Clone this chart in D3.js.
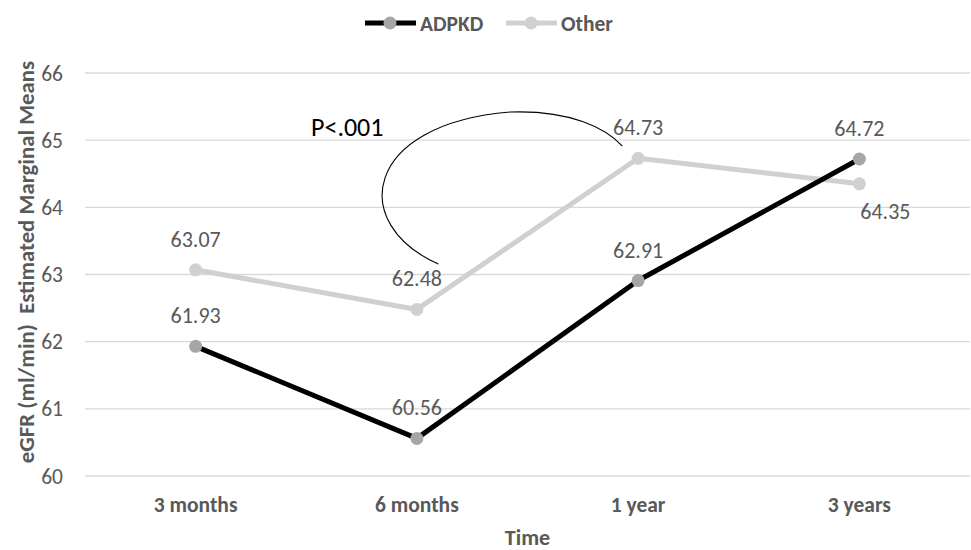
<!DOCTYPE html>
<html>
<head>
<meta charset="utf-8">
<script src="https://cdn.jsdelivr.net/npm/d3@7"></script>
<style>
  body { margin: 0; background: #fff; }
  svg { font-family: Carlito, Calibri, Lato, sans-serif; }
</style>
</head>
<body>
<div id="graphic"></div>
<script>
var categories = ["3 months", "6 months", "1 year", "3 years"];
var adpkd = [61.93, 60.56, 62.91, 64.72];
var other = [63.07, 62.48, 64.73, 64.35];
var yTicks = [60, 61, 62, 63, 64, 65, 66];
var otherLabelPos = ["above", "above", "above", "below"];
var seriesNames = ["ADPKD", "Other"];

var width = 971, height = 550;
var margin = {top: 73, right: 1, bottom: 74, left: 85};

var svg = d3.select("#graphic").append("svg")
  .attr("width", width)
  .attr("height", height);

var x = d3.scaleBand()
  .domain(categories)
  .range([margin.left, width - margin.right]);

var xIdx = d3.scaleLinear()
  .domain([0, categories.length - 1])
  .range([x(categories[0]) + x.bandwidth() / 2, x(categories[categories.length - 1]) + x.bandwidth() / 2]);

var y = d3.scaleLinear()
  .domain([60, 66])
  .range([height - margin.bottom, margin.top]);

// gridlines
svg.append("g")
  .selectAll("line")
  .data(yTicks)
  .enter().append("line")
  .attr("x1", margin.left)
  .attr("x2", width - margin.right)
  .attr("y1", function(d) { return y(d); })
  .attr("y2", function(d) { return y(d); })
  .attr("stroke", "#d9d9d9")
  .attr("stroke-width", 1.3);

// y tick labels
svg.append("g")
  .selectAll("text")
  .data(yTicks)
  .enter().append("text")
  .attr("x", 63)
  .attr("y", function(d) { return y(d); })
  .attr("dy", "0.35em")
  .attr("text-anchor", "end")
  .attr("fill", "#595959")
  .style("font-size", "21.5px")
  .text(function(d) { return d; });

// category labels
svg.append("g")
  .selectAll("text")
  .data(categories)
  .enter().append("text")
  .attr("x", function(d) { return x(d) + x.bandwidth() / 2; })
  .attr("y", 512)
  .attr("text-anchor", "middle")
  .attr("fill", "#595959")
  .style("font-size", "21.5px")
  .style("font-weight", "bold")
  .text(function(d) { return d; });

// axis titles
svg.append("text")
  .attr("x", (margin.left + width - margin.right) / 2)
  .attr("y", 545)
  .attr("text-anchor", "middle")
  .attr("fill", "#595959")
  .style("font-size", "22px")
  .style("font-weight", "bold")
  .text("Time");

svg.append("text")
  .attr("transform", "translate(34," + 262 + ") rotate(-90)")
  .attr("text-anchor", "middle")
  .attr("fill", "#595959")
  .style("font-size", "22.8px")
  .style("font-weight", "bold")
  .style("white-space", "pre")
  .text("eGFR (ml/min)  Estimated Marginal Means");

var line = d3.line()
  .x(function(d, i) { return xIdx(i); })
  .y(function(d) { return y(d); });

function drawSeries(values, lineColor, markerColor) {
  svg.append("path")
    .datum(values)
    .attr("d", line)
    .attr("fill", "none")
    .attr("stroke", lineColor)
    .attr("stroke-width", 5)
    .attr("stroke-linejoin", "round");

  svg.append("g")
    .selectAll("circle")
    .data(values)
    .enter().append("circle")
    .attr("cx", function(d, i) { return xIdx(i); })
    .attr("cy", function(d) { return y(d); })
    .attr("r", 6.5)
    .attr("fill", markerColor);
}

drawSeries(other, "#d0d0d0", "#d0d0d0");
drawSeries(adpkd, "#000000", "#a6a6a6");

// data labels
function drawLabels(values, positions) {
  svg.append("g")
    .selectAll("text")
    .data(values)
    .enter().append("text")
    .attr("x", function(d, i) { return xIdx(i) + (positions[i] == "below" ? 26 : 0); })
    .attr("y", function(d, i) { return y(d) + (positions[i] == "below" ? 35 : -23); })
    .attr("text-anchor", "middle")
    .attr("fill", "#595959")
    .style("font-size", "22px")
    .text(function(d) { return d.toFixed(2); });
}

drawLabels(adpkd, ["above", "above", "above", "above"]);
drawLabels(other, otherLabelPos);

// annotation arc (in data space)
var arcPts = [[1.097, 63.156], [0.69, 63.75], [0.754, 65.24], [1.423, 65.419],
              [1.694, 65.449], [1.852, 65.181], [1.929, 64.913]];
var p = d3.path();
p.moveTo(xIdx(arcPts[0][0]), y(arcPts[0][1]));
p.bezierCurveTo(xIdx(arcPts[1][0]), y(arcPts[1][1]), xIdx(arcPts[2][0]), y(arcPts[2][1]), xIdx(arcPts[3][0]), y(arcPts[3][1]));
p.bezierCurveTo(xIdx(arcPts[4][0]), y(arcPts[4][1]), xIdx(arcPts[5][0]), y(arcPts[5][1]), xIdx(arcPts[6][0]), y(arcPts[6][1]));
svg.append("path")
  .attr("d", p.toString())
  .attr("fill", "none")
  .attr("stroke", "#000")
  .attr("stroke-width", 1.1);

svg.append("text")
  .attr("x", 311)
  .attr("y", 136)
  .attr("fill", "#000")
  .style("font-size", "26px")
  .text("P<.001");

// legend
var legend = svg.append("g").attr("transform", "translate(0,23)");
var legendItems = [
  {name: seriesNames[0], x: 365, line: "#000000", marker: "#a6a6a6"},
  {name: seriesNames[1], x: 506, line: "#d0d0d0", marker: "#d0d0d0"}
];
legendItems.forEach(function(d) {
  legend.append("line")
    .attr("x1", d.x).attr("x2", d.x + 51)
    .attr("y1", 0).attr("y2", 0)
    .attr("stroke", d.line)
    .attr("stroke-width", 5);
  legend.append("circle")
    .attr("cx", d.x + 25).attr("cy", 0)
    .attr("r", 6.5)
    .attr("fill", d.marker);
  legend.append("text")
    .attr("x", d.x + 55)
    .attr("y", 0)
    .attr("dy", "0.35em")
    .attr("fill", "#595959")
    .style("font-size", "21.5px")
    .style("font-weight", "bold")
    .text(d.name);
});
</script>
</body>
</html>
